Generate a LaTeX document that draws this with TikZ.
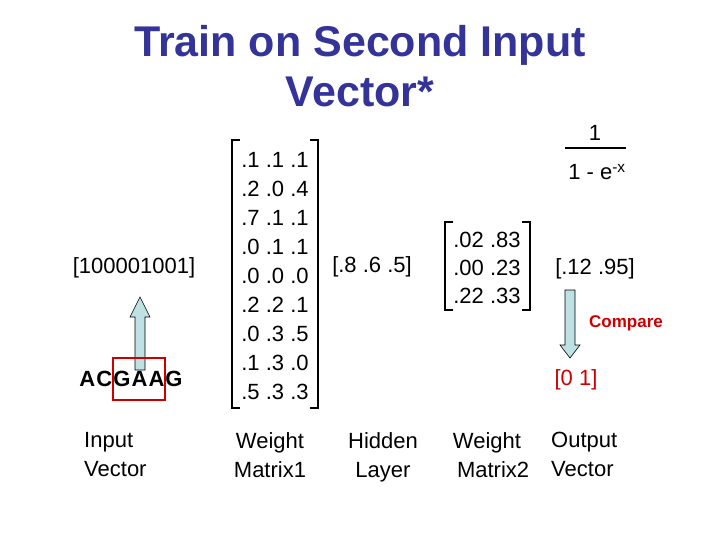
\documentclass[tikz,border=0pt]{standalone}
\usepackage{fontspec}
\setmainfont{Liberation Sans}
\definecolor{ttl}{RGB}{51,51,153}
\definecolor{cmp}{RGB}{204,0,0}
\definecolor{arr}{RGB}{190,225,228}
\begin{document}
\begin{tikzpicture}[x=1pt,y=-1pt,
 txt/.style={font=\fontsize{22}{26}\selectfont,inner sep=0pt},
 lab/.style={font=\fontsize{22}{29}\selectfont,align=left,inner sep=0pt},
 brk/.style={line width=2pt},
 fat/.style={draw=black,fill=arr,line width=0.6pt}]
\useasboundingbox (0,0) rectangle (720,540);
\node[font=\bfseries\fontsize{43}{50}\selectfont,text=ttl,align=center] (title) at (360,66) {Train on Second Input\\Vector*};
% input
\node[txt] (inv) at (134,268) {[100001001]};
\draw[fat] (135,370) -- (135,317) -- (130,317) -- (140,297) -- (150,317) -- (145,317) -- (145,370) -- cycle;
\node[txt,font=\bfseries\fontsize{22}{26}\selectfont\addfontfeatures{LetterSpace=5}] (seq) at (131,379) {ACGAAG};
\node[draw=cmp,line width=1.5pt,minimum width=52pt,minimum height=42pt] (box) at (139,379) {};
% matrix1
\draw[brk] (240,140) -- (232,140) -- (232,408) -- (240,408);
\draw[brk] (310,140) -- (318,140) -- (318,408) -- (310,408);
\foreach \r [count=\i] in {{.1 .1 .1},{.2 .0 .4},{.7 .1 .1},{.0 .1 .1},{.0 .0 .0},{.2 .2 .1},{.0 .3 .5},{.1 .3 .0},{.5 .3 .3}}
  \node[txt] (m\i) at (275,{131+29*\i}) {\r};
\node[txt] (hid) at (372,267) {[.8 .6 .5]};
% matrix2
\draw[brk] (453,222) -- (445,222) -- (445,310) -- (453,310);
\draw[brk] (522,222) -- (530,222) -- (530,310) -- (522,310);
\node[txt] (n1) at (487,240) {.02 .83};
\node[txt] (n2) at (487,268) {.00 .23};
\node[txt] (n3) at (487,296) {.22 .33};
\node[txt] (out) at (595,269) {[.12 .95]};
% fraction
\node[txt] (num) at (595,133) {1};
\draw[line width=2pt] (565,148) -- (626,148);
\node[txt] (den) at (597,172) {1 - e\textsuperscript{-x}};
% compare
\draw[fat] (565,290) -- (565,345) -- (560,345) -- (570,358) -- (580,345) -- (575,345) -- (575,290) -- cycle;
\node[txt,font=\bfseries\fontsize{17}{20}\selectfont,text=cmp] (cmpl) at (626,323) {Compare};
\node[txt,text=cmp] (tgt) at (576,380) {[0 1]};
% labels
\node[lab,anchor=north west] (l1) at (84,432) {Input\\Vector};
\node[lab,align=center,anchor=north] (l2) at (270,432) {Weight\\ Matrix1};
\node[lab,align=center,anchor=north] (l3) at (383,432) {Hidden\\Layer};
\node[lab,align=center,anchor=north] (l4) at (487,432) {Weight\\ \ \ Matrix2};
\node[lab,anchor=north west] (l5) at (551,432) {Output\\Vector};
\end{tikzpicture}
\end{document}
